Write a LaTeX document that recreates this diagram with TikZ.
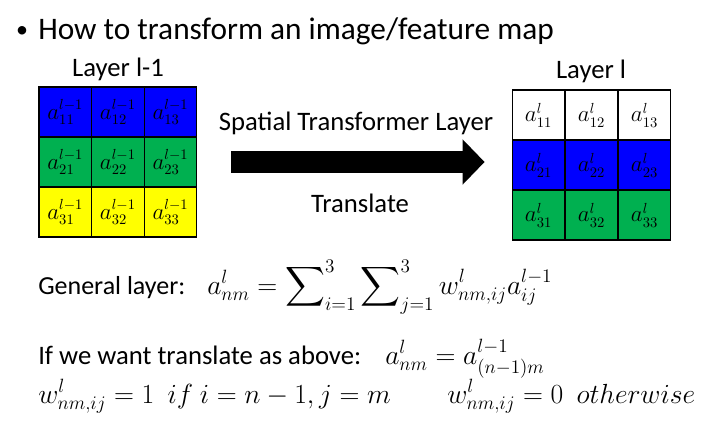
\documentclass[tikz,border=0pt]{standalone}
\usepackage{amsmath}
\usepackage{fontspec}
\setmainfont{Carlito}
\usetikzlibrary{arrows.meta, positioning}
\definecolor{cellblue}{RGB}{0,0,255}
\definecolor{cellgreen}{RGB}{0,176,80}
\definecolor{cellyellow}{RGB}{255,255,0}

\begin{document}
\begin{tikzpicture}[
    x=0.75pt, y=-0.75pt,
    cell/.style={draw, line width=0.8pt, minimum width=39.45pt, minimum height=37.5pt, inner sep=0pt, font=\fontsize{16}{18}\selectfont},
    head/.style={anchor=base west, inner sep=0pt, font=\fontsize{23.5}{28}\selectfont},
    lbl/.style={anchor=base, inner sep=0pt, font=\fontsize{20}{24}\selectfont},
    formula/.style={anchor=base west, inner sep=0pt, font=\fontsize{19.5}{23}\selectfont},
    eq/.style={anchor=base west, inner sep=0pt, font=\fontsize{22}{26}\selectfont},
    bigarrow/.style={line width=16.3pt, -{Triangle[length=16.5pt, width=33pt]}}
]
\useasboundingbox (0,0) rectangle (723,428);

\node[head, anchor=base, font=\fontsize{18}{22}\selectfont] (bullet) at (22,38) {\textbullet};
\node[head] (title) at (38,40) {How to transform an image/feature map};

% layer l-1
\foreach \r/\clr in {1/cellblue, 2/cellgreen, 3/cellyellow}
  \foreach \c in {1,2,3}
    \node[cell, fill=\clr] (L\r\c) at ({39+52.6*(\c-0.5)}, {87+50*(\r-0.5)}) {$a^{l-1}_{\r\c}$};

% layer l
\foreach \r/\clr in {1/white, 2/cellblue, 3/cellgreen}
  \foreach \c in {1,2,3}
    \node[cell, fill=\clr] (R\r\c) at ({512+53*(\c-0.5)}, {90+50*(\r-0.5)}) {$a^{l}_{\r\c}$};

\node[lbl] (prevname) at (118,76) {Layer l-1};
\node[lbl] (curname) at (591,79) {Layer l};

\draw[bigarrow, shorten <=25.3pt, shorten >=20.3pt] (L23.east) -- (L23.east -| R21.west);
\node[lbl] (stl) at (356,130) {Spatial Transformer Layer};
\node[lbl] (shift) at (360,212) {Translate};

\node[formula] (general) at (38,294) {General layer:};
\node[eq, font=\fontsize{21.5}{26}\selectfont] (generaleq) at (207,294) {$a^l_{nm} = \displaystyle\sum\nolimits_{i=1}^{3}\sum\nolimits_{j=1}^{3} w^l_{nm,ij}a^{l-1}_{ij}$};
\node[formula, font=\fontsize{20}{24}\selectfont] (wanted) at (38,364) {If we want translate as above:};
\node[eq] (wantedeq) at (385,364) {$a^l_{nm} = a^{l-1}_{(n-1)m}$};
\node[eq] (wone) at (38,403) {$w^l_{nm,ij} = 1\ \ if\ i = n-1, j = m$};
\node[eq] (wzero) at (447,403) {$w^l_{nm,ij} = 0\ \ otherwise$};
\end{tikzpicture}
\end{document}
